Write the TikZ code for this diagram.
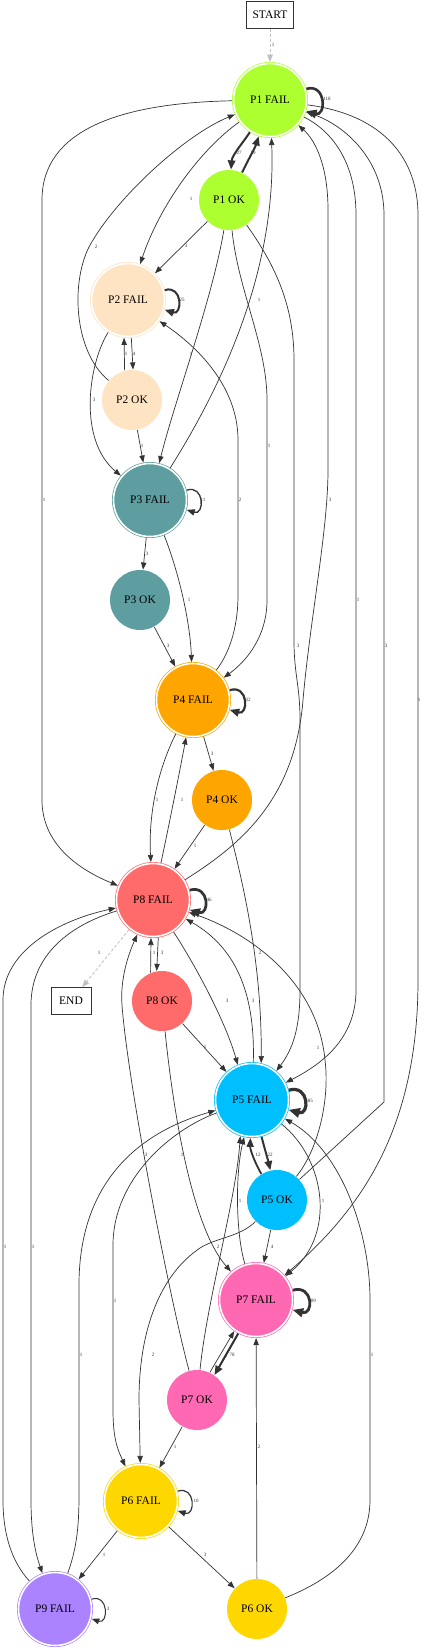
\documentclass[tikz,border=0pt]{standalone}
\usepackage{fontspec}
\setmainfont{Liberation Serif}
\usetikzlibrary{arrows.meta}
\definecolor{cPa}{HTML}{ADFF2F}
\definecolor{cPb}{HTML}{FFE4C4}
\definecolor{cPc}{HTML}{5F9EA0}
\definecolor{cPd}{HTML}{FFA500}
\definecolor{cPh}{HTML}{FF6A6A}
\definecolor{cPe}{HTML}{00BFFF}
\definecolor{cPg}{HTML}{FF69B4}
\definecolor{cPf}{HTML}{FFD700}
\definecolor{cPi}{HTML}{AB82FF}
\definecolor{edgec}{HTML}{333333}
\definecolor{dashc}{HTML}{C0C0C0}
\begin{document}
\begin{tikzpicture}[x=1pt,y=-1pt,
  failnode/.style={circle, minimum size=73pt, inner sep=0pt, outer sep=1.5pt, line width=0.7pt, double=white, double distance=1.6pt, font=\fontsize{11.5}{12}\selectfont},
  oknode/.style={circle, minimum size=60pt, inner sep=0pt, outer sep=0.5pt, font=\fontsize{11.5}{12}\selectfont},
  boxnode/.style={draw=edgec, line width=0.8pt, fill=white, minimum height=27pt, inner sep=0pt, font=\fontsize{11.5}{12}\selectfont},
  e/.style={draw=edgec, line width=0.7pt, -{Triangle[length=6pt 1.6, width=4.2pt 1.6]}},
  dedge/.style={draw=dashc, line width=0.8pt, dash pattern=on 3pt off 2pt, -{Triangle[length=6pt 1.6, width=4.2pt 1.6]}},
  lbl/.style={font=\fontsize{5}{5}\selectfont, text=edgec, inner sep=0pt},
  ]
\useasboundingbox (0,0) rectangle (424,1650);
\fill[white] (0,0) rectangle (424,1650);

% nodes
\node[boxnode, minimum width=47pt] (START) at (270,15) {START};
\node[boxnode, minimum width=40pt] (END) at (71,1001) {END};
\node[failnode, fill=cPa, draw=cPa] (P1F) at (270,100) {P1 FAIL};
\node[oknode, fill=cPa] (P1O) at (229,200) {P1 OK};
\node[failnode, fill=cPb, draw=cPb] (P2F) at (128,300) {P2 FAIL};
\node[oknode, fill=cPb] (P2O) at (132,400) {P2 OK};
\node[failnode, fill=cPc, draw=cPc] (P3F) at (150,500) {P3 FAIL};
\node[oknode, fill=cPc] (P3O) at (140,600) {P3 OK};
\node[failnode, fill=cPd, draw=cPd] (P4F) at (193,700) {P4 FAIL};
\node[oknode, fill=cPd] (P4O) at (222,800) {P4 OK};
\node[failnode, fill=cPh, draw=cPh] (P8F) at (153,900) {P8 FAIL};
\node[oknode, fill=cPh] (P8O) at (162,1001) {P8 OK};
\node[failnode, fill=cPe, draw=cPe] (P5F) at (252,1100) {P5 FAIL};
\node[oknode, fill=cPe] (P5O) at (277,1200) {P5 OK};
\node[failnode, fill=cPg, draw=cPg] (P7F) at (256,1300) {P7 FAIL};
\node[oknode, fill=cPg] (P7O) at (197,1400) {P7 OK};
\node[failnode, fill=cPf, draw=cPf] (P6F) at (141,1501) {P6 FAIL};
\node[oknode, fill=cPf] (P6O) at (257,1609) {P6 OK};
\node[failnode, fill=cPi, draw=cPi] (P9F) at (55,1609) {P9 FAIL};

% START / END
\draw[dedge] (START) -- (P1F);
\node[lbl] (l0) at (273,45) {1};
\draw[dedge] (P8F) -- (END);
\node[lbl] (l1) at (99,953) {1};

% P1
\draw[e, line width=2.6pt] (P1F.17) .. controls +(20,-6) and +(20,6) .. (P1F.-17);
\node[lbl] (l2) at (327,99) {118};
\draw[e, line width=2pt] (P1F) .. controls (245,140) and (232,155) .. (P1O);
\node[lbl] (l3) at (239,153) {27};
\draw[e, line width=2pt] (P1O) .. controls (248,160) and (255,148) .. (P1F);
\node[lbl] (l4) at (253,153) {19};
\draw[e] (P1F) .. controls (120,103) and (42,130) .. (42,200) -- (42,800) .. controls (42,845) and (80,870) .. (P8F);
\node[lbl] (l5) at (44,500) {1};
\draw[e] (P2O) .. controls (72,350) and (70,275) .. (93,240) .. controls (120,195) and (185,135) .. (P1F);
\node[lbl] (l6) at (96,247) {2};
\draw[e] (P1F) .. controls (200,150) and (160,205) .. (P2F);
\node[lbl] (l7) at (191,199) {1};
\draw[e] (P1O) -- (P2F);
\node[lbl] (l8) at (186,246) {3};
\draw[e] (P1O) .. controls (212,300) and (175,400) .. (P3F);
\node[lbl] (l9) at (191,354) {1};
\draw[e] (P3F) .. controls (235,365) and (276,255) .. (P1F);
\node[lbl] (l10) at (259,300) {1};
\draw[e] (P1O) .. controls (238,290) and (267,345) .. (267,400) -- (267,600) .. controls (267,635) and (248,660) .. (P4F);
\node[lbl] (l11) at (269,446) {1};
\draw[e] (P1O) .. controls (275,265) and (294,305) .. (294,360) -- (294,640) .. controls (294,675) and (300,685) .. (300,720) -- (300,990) .. controls (300,1030) and (292,1050) .. (P5F.50);
\node[lbl] (l12) at (298,646) {3};

% P2
\draw[e, line width=2pt] (P2F.15) .. controls +(18,-6) and +(18,6) .. (P2F.-15);
\node[lbl] (l13) at (182,300) {25};
\draw[e] (P2F) .. controls (88,365) and (78,440) .. (P3F);
\node[lbl] (l14) at (94,400) {3};
\draw[e] (P2O) -- (P3F);
\node[lbl] (l15) at (142,446) {1};
\draw[e] (P2F.-85) -- (P2O.88);
\node[lbl] (l16) at (134,354) {4};
\draw[e] (P2O.104) -- (P2F.-96);
\node[lbl] (l17) at (126,354) {1};

% P3
\draw[e, line width=1.3pt] (P3F.15) .. controls +(18,-6) and +(18,6) .. (P3F.-15);
\node[lbl] (l18) at (203,500) {11};
\draw[e] (P3F) -- (P3O);
\node[lbl] (l19) at (147,554) {3};
\draw[e] (P3F) .. controls (178,570) and (190,620) .. (P4F);
\node[lbl] (l20) at (189,600) {1};
\draw[e] (P3O) -- (P4F);
\node[lbl] (l21) at (168,646) {3};

% P4
\draw[e, line width=2.2pt] (P4F.15) .. controls +(19,-6) and +(19,6) .. (P4F.-15);
\node[lbl] (l22) at (248,700) {32};
\draw[e] (P4F) .. controls (228,655) and (238,630) .. (238,595) -- (238,440) .. controls (238,385) and (195,345) .. (P2F);
\node[lbl] (l23) at (240,500) {2};
\draw[e] (P4F) -- (P4O);
\node[lbl] (l24) at (212,754) {3};
\draw[e] (P4F) .. controls (160,765) and (148,810) .. (P8F);
\node[lbl] (l25) at (157,800) {1};
\draw[e] (P8F) .. controls (168,830) and (180,770) .. (P4F);
\node[lbl] (l26) at (182,800) {1};
\draw[e] (P4O) -- (P8F);
\node[lbl] (l27) at (195,846) {1};
\draw[e] (P4O) .. controls (242,880) and (262,960) .. (P5F.76);
\node[lbl] (l28) at (260,953) {2};

% P8
\draw[e, line width=2.7pt] (P8F.15) .. controls +(20,-6) and +(20,6) .. (P8F.-15);
\node[lbl] (l29) at (209,900) {46};
\draw[e] (P8F) .. controls (240,845) and (295,800) .. (303,700) .. controls (310,620) and (328,530) .. (328,470) -- (328,210) .. controls (328,165) and (315,140) .. (P1F);
\node[lbl] (l30) at (330,500) {3};
\draw[e] (P8F.-82) -- (P8O.100);
\node[lbl] (l31) at (162,953) {3};
\draw[e] (P8O.112) -- (P8F.-93);
\node[lbl] (l32) at (154,953) {1};
\draw[e] (P8O) -- (P5F);
\node[lbl] (l33) at (205,1047) {1};
\draw[e] (P8F) .. controls (195,965) and (225,1020) .. (P5F.112);
\node[lbl] (l34) at (227,1001) {3};
\draw[e] (P5F.88) .. controls (255,1000) and (240,950) .. (P8F);
\node[lbl] (l35) at (253,1001) {3};
\draw[e] (P8O) .. controls (172,1100) and (190,1225) .. (P7F);
\node[lbl] (l36) at (182,1155) {1};
\draw[e] (P8F) .. controls (70,925) and (31,955) .. (31,1005) -- (31,1500) .. controls (31,1535) and (36,1555) .. (P9F);
\node[lbl] (l37) at (33,1247) {1};
\draw[e] (P9F) .. controls (12,1562) and (3,1535) .. (3,1500) -- (3,1000) .. controls (3,950) and (60,920) .. (P8F);
\node[lbl] (l38) at (5,1247) {1};

% long right-hand edges
\draw[e] (P1F) .. controls (330,130) and (356,160) .. (356,215) -- (356,990) .. controls (356,1040) and (320,1065) .. (P5F);
\node[lbl] (l39) at (358,600) {1};
\draw[e] (P5O) -- (384,1102) -- (384,215) .. controls (384,160) and (345,125) .. (P1F);
\node[lbl] (l40) at (386,646) {3};
\draw[e] (P1F) .. controls (385,115) and (418,160) .. (418,215) -- (418,980) .. controls (418,1130) and (360,1210) .. (P7F);
\node[lbl] (l41) at (419,700) {1};
\draw[e] (P5O) .. controls (318,1150) and (330,1100) .. (325,1060) .. controls (318,985) and (255,935) .. (P8F);
\node[lbl] (l42) at (318,1048) {1};
\draw[e] (P6O) .. controls (330,1580) and (370,1550) .. (370,1500) -- (370,1300) .. controls (370,1230) and (340,1150) .. (P5F);
\node[lbl] (l43) at (372,1355) {1};

% P5
\draw[e, line width=3.2pt] (P5F.15) .. controls +(21,-6) and +(21,6) .. (P5F.-15);
\node[lbl] (l44) at (309,1101) {185};
\draw[e, line width=2pt] (P5F) .. controls (265,1150) and (268,1160) .. (P5O);
\node[lbl] (l45) at (270,1155) {22};
\draw[e, line width=1.8pt] (P5O) .. controls (256,1165) and (250,1150) .. (P5F);
\node[lbl] (l46) at (258,1155) {12};
\draw[e] (P5F) .. controls (326,1160) and (336,1235) .. (P7F);
\node[lbl] (l47) at (323,1201) {1};
\draw[e] (P5O) -- (P7F);
\node[lbl] (l48) at (272,1247) {4};
\draw[e] (P5O) .. controls (240,1237) and (215,1238) .. (200,1248) .. controls (160,1275) and (139,1330) .. (139,1400) -- (P6F);
\node[lbl] (l49) at (153,1355) {2};
\draw[e] (P5F) .. controls (170,1130) and (113,1180) .. (113,1245) -- (113,1410) .. controls (113,1440) and (118,1450) .. (P6F);
\node[lbl] (l50) at (115,1301) {1};
\draw[e] (P9F) .. controls (76,1550) and (79,1530) .. (79,1495) -- (79,1285) .. controls (79,1190) and (130,1135) .. (P5F);
\node[lbl] (l51) at (81,1355) {1};

% P7
\draw[e] (P7O) .. controls (170,1300) and (128,1085) .. (122,1005) .. controls (120,980) and (128,955) .. (P8F);
\node[lbl] (l52) at (146,1155) {3};
\draw[e] (P7O) .. controls (207,1300) and (236,1200) .. (P5F.-108);
\node[lbl] (l53) at (218,1247) {2};
\draw[e] (P7F) .. controls (236,1235) and (235,1175) .. (P5F.-102);
\node[lbl] (l54) at (240,1201) {1};
\draw[e, line width=2.8pt] (P7F.15) .. controls +(21,-6) and +(21,6) .. (P7F.-15);
\node[lbl] (l55) at (312,1301) {109};
\draw[e, line width=2pt] (P7F.-118) -- (P7O.55);
\node[lbl] (l56) at (232,1355) {78};
\draw[e] (P7O.65) -- (P7F.-125);
\node[lbl] (l57) at (226,1356) {1};
\draw[e] (P7O) -- (P6F);
\node[lbl] (l58) at (175,1447) {1};

% P6 / P9
\draw[e] (P6O) -- (P7F);
\node[lbl] (l59) at (259,1447) {2};
\draw[e, line width=1.2pt] (P6F.15) .. controls +(18,-6) and +(18,6) .. (P6F.-15);
\node[lbl] (l60) at (196,1501) {10};
\draw[e] (P6F) -- (P9F);
\node[lbl] (l61) at (104,1555) {1};
\draw[e] (P6F) -- (P6O);
\node[lbl] (l62) at (205,1555) {3};
\draw[e, line width=1pt] (P9F.15) .. controls +(17,-6) and +(17,6) .. (P9F.-15);
\node[lbl] (l63) at (108,1609) {3};
\end{tikzpicture}
\end{document}
